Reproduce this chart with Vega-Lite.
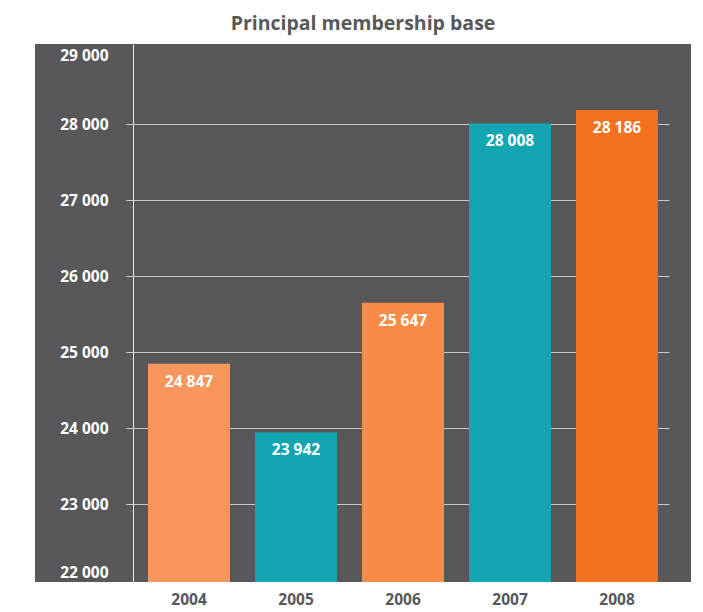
{
  "$schema": "https://vega.github.io/schema/vega-lite/v6.json",
  "autosize": "none",
  "width": 656,
  "height": 538,
  "padding": {"left": 35, "top": 44, "right": 12, "bottom": 30},
  "background": "white",
  "title": {
    "text": "Principal membership base",
    "font": "Open Sans",
    "fontSize": 19.5,
    "fontWeight": "bold",
    "color": "#58585a",
    "anchor": "middle",
    "offset": 10
  },
  "config": {
    "view": {"fill": "#58585a", "stroke": null},
    "locale": {"number": {"decimal": ".", "thousands": " ", "grouping": [3], "currency": ["", ""]}}
  },
  "data": {
    "values": [
      {"year": "2004", "members": 24847},
      {"year": "2005", "members": 23942},
      {"year": "2006", "members": 25647},
      {"year": "2007", "members": 28008},
      {"year": "2008", "members": 28186}
    ]
  },
  "encoding": {
    "x": {
      "field": "year",
      "type": "nominal",
      "sort": null,
      "scale": {"range": [91, 634], "paddingInner": 0.2336, "paddingOuter": 0.1542, "align": 0.667},
      "axis": {
        "title": null,
        "labelAngle": 0,
        "domain": false,
        "ticks": false,
        "tickSize": 0,
        "labelPadding": 22,
        "labelBaseline": "alphabetic",
        "labelFont": "Open Sans",
        "labelFontSize": 15.5,
        "labelFontWeight": "bold",
        "labelColor": "#58585a"
      }
    },
    "y": {
      "field": "members",
      "type": "quantitative",
      "scale": {"domain": [21974, 29053], "nice": false, "zero": false},
      "axis": {
        "title": null,
        "values": [22000, 23000, 24000, 25000, 26000, 27000, 28000, 29000],
        "format": ",d",
        "offset": -98,
        "domainColor": "#e8e8e8",
        "domainWidth": 1,
        "tickColor": "#d0d0d0",
        "tickSize": 7,
        "tickOpacity": {"condition": {"test": "datum.value == 22000 || datum.value == 29000", "value": 0}, "value": 1},
        "grid": true,
        "gridColor": "#c8c8c8",
        "gridWidth": 1,
        "gridOpacity": {"condition": {"test": "datum.value == 22000 || datum.value == 29000", "value": 0}, "value": 1},
        "labelPadding": 18,
        "labelFlush": 5,
        "labelFont": "Open Sans",
        "labelFontSize": 15.5,
        "labelFontWeight": "bold",
        "labelColor": "#ffffff"
      }
    }
  },
  "layer": [
    {
      "mark": {"type": "bar", "clip": true},
      "encoding": {
        "color": {
          "field": "year",
          "type": "nominal",
          "scale": {"domain": ["2004", "2005", "2006", "2007", "2008"], "range": ["#f6965c", "#13a6b2", "#f78b47", "#13a6b2", "#f37021"]},
          "legend": null
        }
      }
    },
    {
      "mark": {"type": "text", "font": "Open Sans", "fontSize": 15.5, "fontWeight": "bold", "color": "#ffffff", "baseline": "middle", "align": "center", "dy": 18},
      "encoding": {
        "text": {"field": "members", "type": "quantitative", "format": ",d"}
      }
    }
  ]
}
